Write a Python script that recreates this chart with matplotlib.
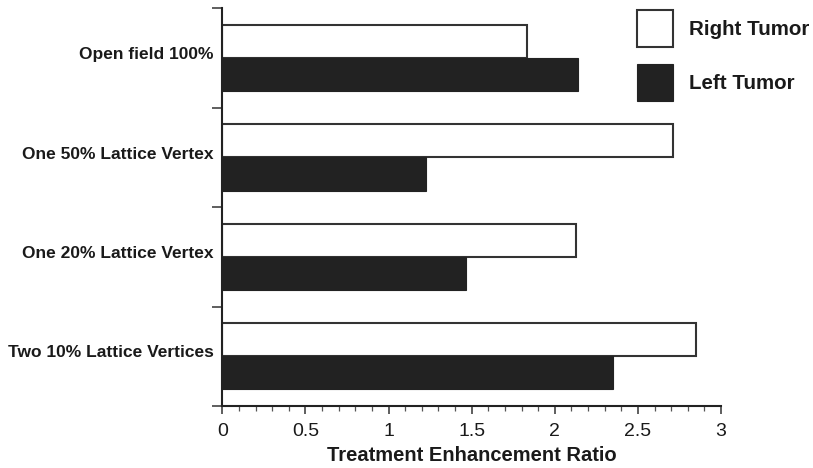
import matplotlib
matplotlib.use("Agg")
import matplotlib.pyplot as plt
import matplotlib.transforms as mtransforms
from matplotlib.patches import Patch
from matplotlib.ticker import MultipleLocator, FixedLocator, NullFormatter, FixedFormatter

# Treatment enhancement ratio per irradiation scheme
categories = ["Open field 100%", "One 50% Lattice Vertex",
              "One 20% Lattice Vertex", "Two 10% Lattice Vertices"]
right_tumor = [1.83, 2.71, 2.13, 2.85]
left_tumor = [2.14, 1.225, 1.465, 2.35]
x_ticks = [0, 0.5, 1, 1.5, 2, 2.5, 3]
x_tick_labels = ["0", "0.5", "1", "1.5", "2", "2.5", "3"]

plt.rcParams['font.family'] = ['Liberation Sans', 'DejaVu Sans']

fig = plt.figure(figsize=(8.13, 4.68), dpi=100)
ax = fig.add_axes([222.3 / 813, 1 - 406 / 468, (721 - 222.3) / 813, (406 - 8.3) / 468])

centers = [i + 0.5 for i in range(len(categories))]
bh = 1 / 3
dark = "#222222"
edge = "#333333"

ax.barh([c - bh / 2 for c in centers], right_tumor, height=bh, color="white",
        edgecolor=edge, linewidth=1.5, label="Right Tumor")
ax.barh([c + bh / 2 for c in centers], left_tumor, height=bh, color=dark,
        edgecolor=dark, linewidth=0.8, label="Left Tumor")

ax.set_xlim(0, 3)
ax.set_ylim(len(categories), 0)

for s in ["top", "right"]:
    ax.spines[s].set_visible(False)
for s in ["left", "bottom"]:
    ax.spines[s].set_linewidth(1.5)
    ax.spines[s].set_color("#222222")

# x axis: major ticks every 0.5, minor every 0.1
ax.xaxis.set_major_locator(FixedLocator(x_ticks))
ax.xaxis.set_major_formatter(FixedFormatter(x_tick_labels))
ax.xaxis.set_minor_locator(MultipleLocator(0.1))
ax.tick_params(axis="x", which="major", direction="out", length=6, width=1.1,
               color="#333333", labelsize=14, pad=6.5, labelcolor="#1a1a1a")
ax.tick_params(axis="x", which="minor", direction="out", length=3.5, width=0.9,
               color="#555555")

# y axis: ticks at group boundaries, labels at group centres
ax.yaxis.set_major_locator(FixedLocator(list(range(len(categories) + 1))))
ax.yaxis.set_major_formatter(NullFormatter())
ax.yaxis.set_minor_locator(FixedLocator(centers))
ax.yaxis.set_minor_formatter(FixedFormatter(categories))
ax.tick_params(axis="y", which="major", direction="out", length=7.2, width=1.1,
               color="#333333")
ax.tick_params(axis="y", which="minor", length=0, pad=6)
shift_up = mtransforms.ScaledTranslation(0, 3.5 / 72, fig.dpi_scale_trans)
for lab in ax.get_yticklabels(minor=True):
    lab.set_fontsize(12.5)
    lab.set_fontweight("bold")
    lab.set_color("#1a1a1a")
    lab.set_transform(lab.get_transform() + shift_up)

ax.set_xlabel("Treatment Enhancement Ratio", fontsize=14.5, fontweight="bold",
              color="#1a1a1a", labelpad=4)

handles = [Patch(facecolor="white", edgecolor=edge, linewidth=1.5, label="Right Tumor"),
           Patch(facecolor=dark, edgecolor=dark, linewidth=0.8, label="Left Tumor")]
leg = fig.legend(handles=handles, loc="upper left",
                 bbox_to_anchor=(637 / 813, 1 - 10 / 468),
                 frameon=False, borderpad=0, borderaxespad=0,
                 handlelength=1.73, handleheight=2.42, labelspacing=0.8,
                 handletextpad=0.82, prop={"size": 14.8, "weight": "bold"})
for t in leg.get_texts():
    t.set_color("#1a1a1a")

fig.savefig("out.png", dpi=100)
